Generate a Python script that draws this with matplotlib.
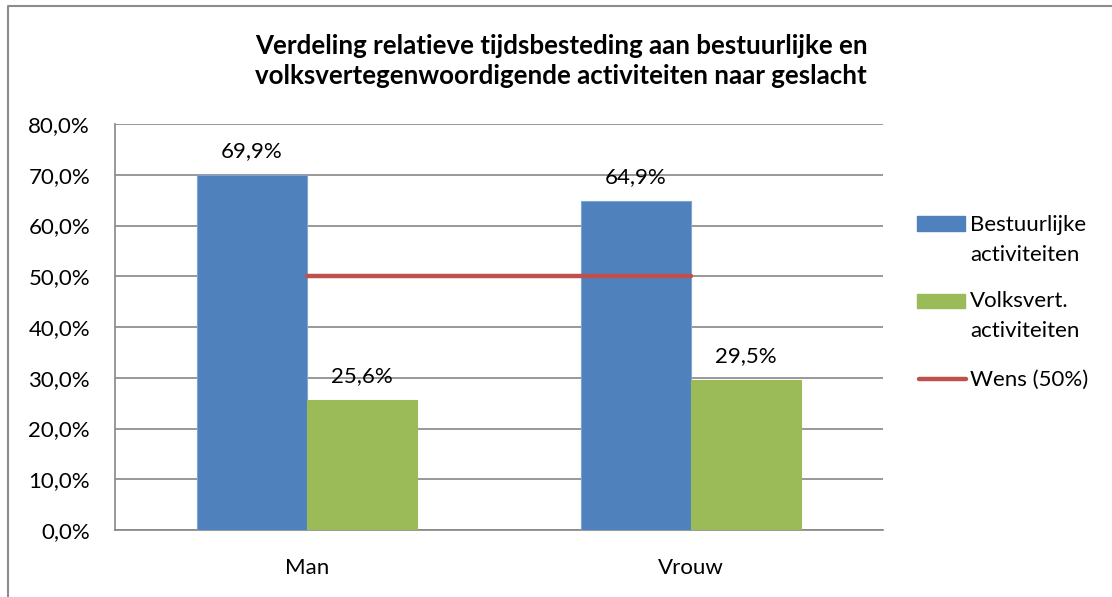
import matplotlib
matplotlib.use("Agg")
import matplotlib.pyplot as plt
from matplotlib.patches import Rectangle
from matplotlib.lines import Line2D
import numpy as np

categories = ["Man", "Vrouw"]
bestuurlijk = [0.699, 0.649]
volksvert = [0.256, 0.295]
wens = [0.50, 0.50]
series_names = ["Bestuurlijke\nactiviteiten", "Volksvert.\nactiviteiten", "Wens (50%)"]
title = "Verdeling relatieve tijdsbesteding aan bestuurlijke en\nvolksvertegenwoordigende activiteiten naar geslacht"
yticks = [0.0, 0.1, 0.2, 0.3, 0.4, 0.5, 0.6, 0.7, 0.8]

FONT = "Lato"
plt.rcParams['font.family'] = [FONT, 'DejaVu Sans']
FS = 16

W, H = 1112, 597
fig = plt.figure(figsize=(W / 100, H / 100), dpi=100)
ax = fig.add_axes([115 / W, 1 - 530 / H, (883 - 115) / W, (530 - 124) / H])

blue = "#4F81BD"
green = "#9BBB59"
red = "#C0504D"
grid = "#868686"

x = np.arange(len(categories))
bw = 0.286
b1 = ax.bar(x - bw / 2, bestuurlijk, bw, color=blue, edgecolor="#7FA3D3", linewidth=0.8, zorder=3)
b2 = ax.bar(x + bw / 2, volksvert, bw, color=green, edgecolor=green, linewidth=0.8, zorder=3)
ax.plot(x, wens, color=red, linewidth=3.2, solid_capstyle="round", zorder=4)

for bars, vals in ((b1, bestuurlijk), (b2, volksvert)):
    for r, v in zip(bars, vals):
        ax.annotate(f"{v*100:.1f}%".replace(".", ","), (r.get_x() + r.get_width() / 2, v),
                    xytext=(0, 14), textcoords="offset pixels", ha="center", va="bottom",
                    fontsize=FS, color="black", zorder=5)

ax.set_xlim(-0.5, 1.5)
ax.set_ylim(0, 0.8)
ax.set_yticks(yticks)
ax.set_yticklabels([f"{t*100:.1f}%".replace(".", ",") for t in yticks], fontsize=FS)
ax.set_xticks(x)
ax.set_xticklabels(categories, fontsize=FS)
ax.tick_params(axis="both", length=0)
ax.tick_params(axis="y", pad=18)
ax.tick_params(axis="x", pad=20)
ax.grid(axis="y", color=grid, linewidth=1.2, zorder=0)
ax.set_axisbelow(True)
for s in ("top", "right"):
    ax.spines[s].set_visible(False)
for s in ("left", "bottom"):
    ax.spines[s].set_color(grid)
    ax.spines[s].set_linewidth(1.2)

fig.text(561 / W, 1 - 61 / H, title, ha="center", va="center", fontsize=18.6,
         fontweight="bold", linespacing=1.35)

def fx(px):
    return px / W
def fy(py):
    return 1 - py / H

# legend (manual, Excel style)
fig.patches.append(Rectangle((fx(917), fy(231)), fx(965) - fx(917), fy(216) - fy(231),
                             transform=fig.transFigure, color=blue))
fig.patches.append(Rectangle((fx(917), fy(308)), fx(965) - fx(917), fy(294) - fy(308),
                             transform=fig.transFigure, color=green))
fig.lines.append(Line2D([fx(919), fx(966)], [fy(379), fy(379)], transform=fig.transFigure,
                        color=red, linewidth=3.2, solid_capstyle="round"))
legend_lines = [(series_names[0].split("\n")[0], 225), (series_names[0].split("\n")[1], 255),
                (series_names[1].split("\n")[0], 301), (series_names[1].split("\n")[1], 331),
                (series_names[2], 380)]
for txt, py in legend_lines:
    fig.text(fx(970), fy(py), txt, ha="left", va="center", fontsize=FS)

# outer chart border
fig.lines.append(Line2D([fx(8), fx(8), fx(1115)], [fy(600), fy(6), fy(6)],
                        transform=fig.transFigure, color="#8C8C8C", linewidth=1.5))

fig.savefig("out.png", dpi=100)
